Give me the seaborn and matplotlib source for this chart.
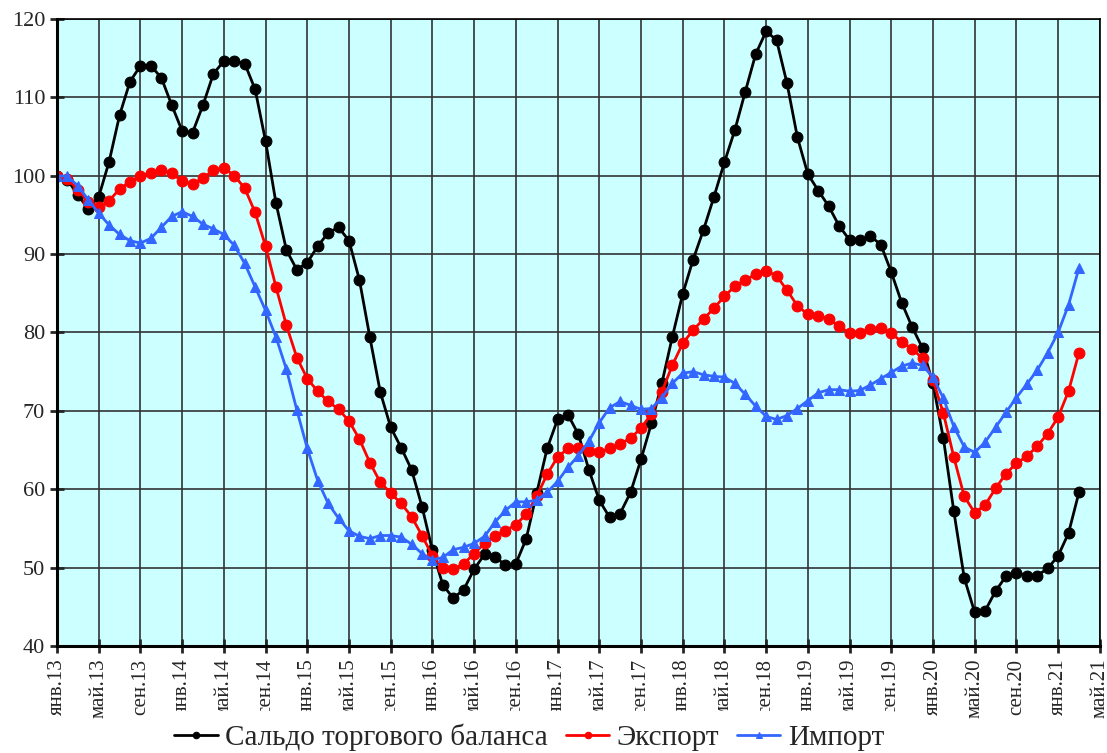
import numpy as np
import pandas as pd
import matplotlib
matplotlib.use('Agg')
import matplotlib.pyplot as plt
import seaborn as sns

# monthly index values, Jan 2013 = 100
saldo = [100, 99.5, 97.5, 95.8, 97.3, 101.8, 107.7, 112, 114, 114,
         112.5, 109, 105.7, 105.5, 109, 113, 114.6, 114.6, 114.3, 111,
         104.4, 96.5, 90.5, 88, 88.9, 91, 92.7, 93.4, 91.7, 86.7,
         79.4, 72.4, 67.9, 65.3, 62.5, 57.8, 52.2, 47.8, 46.1, 47.2,
         49.8, 51.7, 51.4, 50.3, 50.5, 53.7, 59.5, 65.2, 68.9, 69.5,
         67, 62.5, 58.6, 56.4, 56.9, 59.6, 63.8, 68.4, 73.5, 79.4,
         84.9, 89.3, 93.1, 97.3, 101.7, 105.8, 110.7, 115.5, 118.4, 117.3,
         111.8, 104.9, 100.2, 98.1, 96.1, 93.6, 91.8, 91.8, 92.3, 91.2,
         87.7, 83.8, 80.7, 78, 73.5, 66.5, 57.2, 48.7, 44.3, 44.5,
         47, 48.9, 49.3, 49, 49, 49.9, 51.5, 54.4, 59.6]

export = [100, 99.6, 98.2, 96.7, 96, 96.8, 98.3, 99.2, 100, 100.3,
          100.7, 100.3, 99.3, 98.9, 99.7, 100.7, 101, 100, 98.4, 95.3,
          91, 85.8, 80.9, 76.8, 74.1, 72.5, 71.2, 70.2, 68.7, 66.4,
          63.4, 60.9, 59.5, 58.2, 56.5, 54.1, 51.5, 50, 49.8, 50.5,
          51.8, 53.1, 54.1, 54.7, 55.5, 56.8, 59.1, 61.9, 64.1, 65.2,
          65.2, 64.9, 64.7, 65.2, 65.8, 66.5, 67.8, 69.6, 72.4, 75.8,
          78.6, 80.3, 81.7, 83.1, 84.6, 85.9, 86.7, 87.4, 87.9, 87.2,
          85.4, 83.4, 82.3, 82.1, 81.7, 80.8, 79.9, 79.9, 80.5, 80.6,
          79.9, 78.8, 77.9, 76.7, 73.9, 69.7, 64.1, 59.1, 57, 58,
          60.1, 62, 63.3, 64.2, 65.5, 67.1, 69.2, 72.5, 77.4]

imports = [100, 99.9, 98.7, 96.9, 95.2, 93.7, 92.5, 91.7, 91.4, 92,
           93.4, 94.8, 95.4, 94.8, 93.8, 93.2, 92.5, 91.1, 88.8, 85.8,
           82.8, 79.4, 75.3, 70.1, 65.2, 61.1, 58.2, 56.3, 54.7, 54,
           53.7, 54.1, 54.1, 53.9, 53, 51.8, 51, 51.3, 52.3, 52.6,
           53.1, 54, 55.8, 57.3, 58.4, 58.4, 58.6, 59.6, 61, 62.8,
           64.3, 66.1, 68.5, 70.4, 71.2, 70.7, 70.2, 70.3, 71.7, 73.5,
           74.8, 75, 74.6, 74.4, 74.3, 73.5, 72.1, 70.6, 69.3, 68.9,
           69.4, 70.3, 71.3, 72.3, 72.7, 72.7, 72.5, 72.6, 73.3, 74.1,
           74.9, 75.7, 76.1, 75.8, 74.3, 71.6, 68, 65.4, 64.7, 66,
           67.9, 69.8, 71.7, 73.4, 75.2, 77.4, 80, 83.5, 88.2]

tick_labels = ['янв.13', 'май.13', 'сен.13', 'янв.14', 'май.14', 'сен.14',
               'янв.15', 'май.15', 'сен.15', 'янв.16', 'май.16', 'сен.16',
               'янв.17', 'май.17', 'сен.17', 'янв.18', 'май.18', 'сен.18',
               'янв.19', 'май.19', 'сен.19', 'янв.20', 'май.20', 'сен.20',
               'янв.21', 'май.21']

series_names = ['Сальдо торгового баланса', 'Экспорт', 'Импорт']

months = np.arange(len(saldo))
df = pd.DataFrame({
    'month': np.tile(months, 3),
    'value': saldo + export + imports,
    'series': np.repeat(series_names, len(saldo)),
})

sns.set_style('ticks', {'axes.facecolor': '#CCFFFF'})
plt.rcParams['font.family'] = ['Liberation Serif', 'DejaVu Serif']

fig = plt.figure(figsize=(11.07, 7.53), dpi=100)
ax = fig.add_axes([0.0515, 0.142, 0.942, 0.833])

colors = {'Сальдо торгового баланса': 'black', 'Экспорт': '#FF0000', 'Импорт': '#3366FF'}
markers = {'Сальдо торгового баланса': 'o', 'Экспорт': 'o', 'Импорт': '^'}

for name in series_names:
    sns.lineplot(data=df[df['series'] == name], x='month', y='value', ax=ax,
                 color=colors[name], marker=markers[name], markersize=7.8,
                 markeredgecolor=colors[name], linewidth=2, label=name)

ax.set_xlim(0, 100)
ax.set_ylim(40, 120)
ax.set_xticks(np.arange(0, 101, 4))
ax.set_xticklabels(tick_labels, rotation=90, fontsize=15)
ax.set_yticks(np.arange(40, 121, 10))
ax.tick_params(axis='y', labelsize=16, direction='inout', length=10, width=2)
ax.tick_params(axis='x', direction='inout', length=10, width=2, pad=4)
ax.set_xlabel('')
ax.set_ylabel('')

ax.set_axisbelow(True)
ax.grid(True, color='#333333', linewidth=1.2)
for side in ['left', 'bottom']:
    ax.spines[side].set_linewidth(2.2)
for side in ['top', 'right']:
    ax.spines[side].set_linewidth(1.2)
for s in ax.spines.values():
    s.set_color('black')

# legend box sits over the lower part of the date labels, as in the source
ax.legend(loc='upper center', bbox_to_anchor=(0.478, 0.056), bbox_transform=fig.transFigure,
          ncol=3, frameon=True, facecolor='white', edgecolor='white', framealpha=1,
          fontsize=21, markerscale=0.6, handlelength=1.5, handletextpad=0.25,
          columnspacing=0.6, borderaxespad=0, borderpad=0.45)

fig.savefig('out.png', dpi=100)
